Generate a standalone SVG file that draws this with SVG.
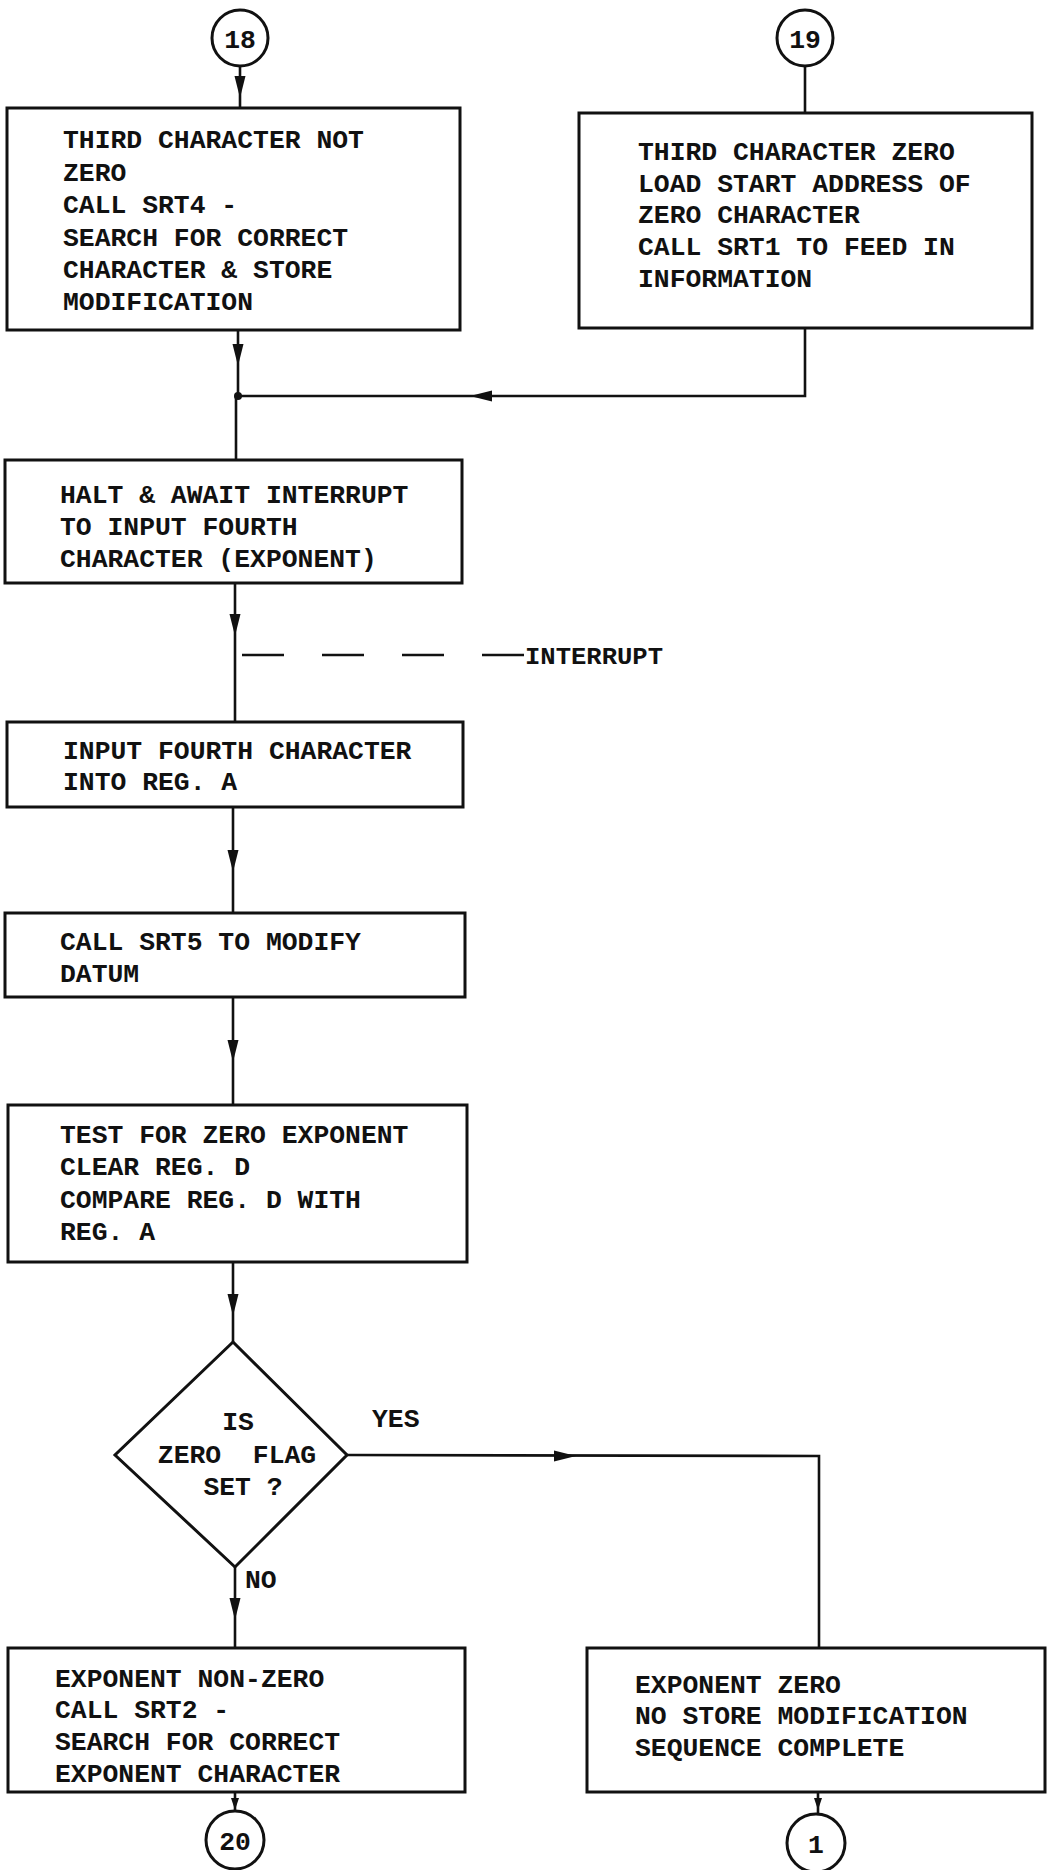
<svg xmlns="http://www.w3.org/2000/svg" width="1047" height="1870" viewBox="0 0 1047 1870">
<style>
  .box { fill: #fff; stroke: #111; stroke-width: 3; }
  .ln { fill: none; stroke: #111; stroke-width: 2.6; }
  .dash { fill: none; stroke: #111; stroke-width: 2.6; }
  .t { font-family: "Liberation Mono", "Courier New", monospace; font-size: 26.4px; font-weight: bold; fill: #111; }
  .c { text-anchor: middle; }
  .ah { fill: #111; }
</style>
<defs>
  <path id="ah" d="M0,0 L-5.5,-22 L5.5,-22 Z"/>
  <path id="ahs" d="M0,0 L-4,-12 L4,-12 Z"/>
</defs>
<rect width="1047" height="1870" fill="#fff"/>

<g id="connectors">
  <line class="ln" x1="240" y1="66" x2="240" y2="108"/>
  <line class="ln" x1="805" y1="66" x2="805" y2="113"/>
  <line class="ln" x1="238" y1="330" x2="238" y2="396"/>
  <polyline class="ln" points="805,328 805,396 238,396"/>
  <circle cx="238" cy="396" r="4" fill="#111"/>
  <line class="ln" x1="236" y1="396" x2="236" y2="460"/>
  <line class="ln" x1="235" y1="583" x2="235" y2="722"/>
  <line class="dash" x1="242" y1="655" x2="525" y2="655" stroke-dasharray="42 38"/>
  <line class="ln" x1="233" y1="807" x2="233" y2="913"/>
  <line class="ln" x1="233" y1="997" x2="233" y2="1105"/>
  <line class="ln" x1="233" y1="1262" x2="233" y2="1342"/>
  <line class="ln" x1="235" y1="1567" x2="235" y2="1648"/>
  <polyline class="ln" points="347,1455 819,1456 819,1648"/>
  <line class="ln" x1="235" y1="1792" x2="235" y2="1810"/>
  <line class="ln" x1="818" y1="1792" x2="818" y2="1814"/>
  <use href="#ah" class="ah" transform="translate(240,98)"/>
  <use href="#ah" class="ah" transform="translate(238,366)"/>
  <use href="#ah" class="ah" transform="translate(470,396) rotate(90)"/>
  <use href="#ah" class="ah" transform="translate(235,636)"/>
  <use href="#ah" class="ah" transform="translate(233,872)"/>
  <use href="#ah" class="ah" transform="translate(233,1062)"/>
  <use href="#ah" class="ah" transform="translate(233,1316)"/>
  <use href="#ah" class="ah" transform="translate(576,1456) rotate(-90)"/>
  <use href="#ah" class="ah" transform="translate(235,1620)"/>
  <use href="#ahs" class="ah" transform="translate(235,1810)"/>
  <use href="#ahs" class="ah" transform="translate(818,1810)"/>
  <text class="t" x="525" y="664" textLength="138" lengthAdjust="spacingAndGlyphs" style="font-size:24px">INTERRUPT</text>
  <text class="t" x="372" y="1427">YES</text>
  <text class="t" x="245" y="1588">NO</text>
</g>

<g id="c18">
  <circle class="box" cx="240" cy="38" r="28"/>
  <text class="t c" x="240" y="48">18</text>
</g>
<g id="c19">
  <circle class="box" cx="805" cy="38" r="28"/>
  <text class="t c" x="805" y="48">19</text>
</g>

<g id="box1">
  <rect class="box" x="7" y="108" width="453" height="222"/>
  <text class="t" x="63" y="148">THIRD CHARACTER NOT</text>
  <text class="t" x="63" y="181">ZERO</text>
  <text class="t" x="63" y="213">CALL SRT4 -</text>
  <text class="t" x="63" y="246">SEARCH FOR CORRECT</text>
  <text class="t" x="63" y="278">CHARACTER &amp; STORE</text>
  <text class="t" x="63" y="310">MODIFICATION</text>
</g>

<g id="box2">
  <rect class="box" x="579" y="113" width="453" height="215"/>
  <text class="t" x="638" y="160">THIRD CHARACTER ZERO</text>
  <text class="t" x="638" y="192">LOAD START ADDRESS OF</text>
  <text class="t" x="638" y="223">ZERO CHARACTER</text>
  <text class="t" x="638" y="255">CALL SRT1 TO FEED IN</text>
  <text class="t" x="638" y="287">INFORMATION</text>
</g>

<g id="box3">
  <rect class="box" x="5" y="460" width="457" height="123"/>
  <text class="t" x="60" y="503">HALT &amp; AWAIT INTERRUPT</text>
  <text class="t" x="60" y="535">TO INPUT FOURTH</text>
  <text class="t" x="60" y="567">CHARACTER (EXPONENT)</text>
</g>

<g id="box4">
  <rect class="box" x="7" y="722" width="456" height="85"/>
  <text class="t" x="63" y="759">INPUT FOURTH CHARACTER</text>
  <text class="t" x="63" y="790">INTO REG. A</text>
</g>

<g id="box5">
  <rect class="box" x="5" y="913" width="460" height="84"/>
  <text class="t" x="60" y="950">CALL SRT5 TO MODIFY</text>
  <text class="t" x="60" y="982">DATUM</text>
</g>

<g id="box6">
  <rect class="box" x="8" y="1105" width="459" height="157"/>
  <text class="t" x="60" y="1143">TEST FOR ZERO EXPONENT</text>
  <text class="t" x="60" y="1175">CLEAR REG. D</text>
  <text class="t" x="60" y="1208">COMPARE REG. D WITH</text>
  <text class="t" x="60" y="1240">REG. A</text>
</g>

<g id="decision">
  <polygon class="box" points="233,1342 347,1455 235,1567 115,1455"/>
  <text class="t c" x="238" y="1430">IS</text>
  <text class="t c" x="237" y="1463" xml:space="preserve">ZERO  FLAG</text>
  <text class="t c" x="243" y="1495">SET ?</text>
</g>

<g id="box7">
  <rect class="box" x="8" y="1648" width="457" height="144"/>
  <text class="t" x="55" y="1687">EXPONENT NON-ZERO</text>
  <text class="t" x="55" y="1718">CALL SRT2 -</text>
  <text class="t" x="55" y="1750">SEARCH FOR CORRECT</text>
  <text class="t" x="55" y="1782">EXPONENT CHARACTER</text>
</g>

<g id="box8">
  <rect class="box" x="587" y="1648" width="458" height="144"/>
  <text class="t" x="635" y="1693">EXPONENT ZERO</text>
  <text class="t" x="635" y="1724">NO STORE MODIFICATION</text>
  <text class="t" x="635" y="1756">SEQUENCE COMPLETE</text>
</g>

<g id="c20">
  <circle class="box" cx="235" cy="1840" r="29"/>
  <text class="t c" x="235" y="1850">20</text>
</g>
<g id="c1">
  <circle class="box" cx="816" cy="1843" r="29"/>
  <text class="t c" x="816" y="1853">1</text>
</g>
</svg>
